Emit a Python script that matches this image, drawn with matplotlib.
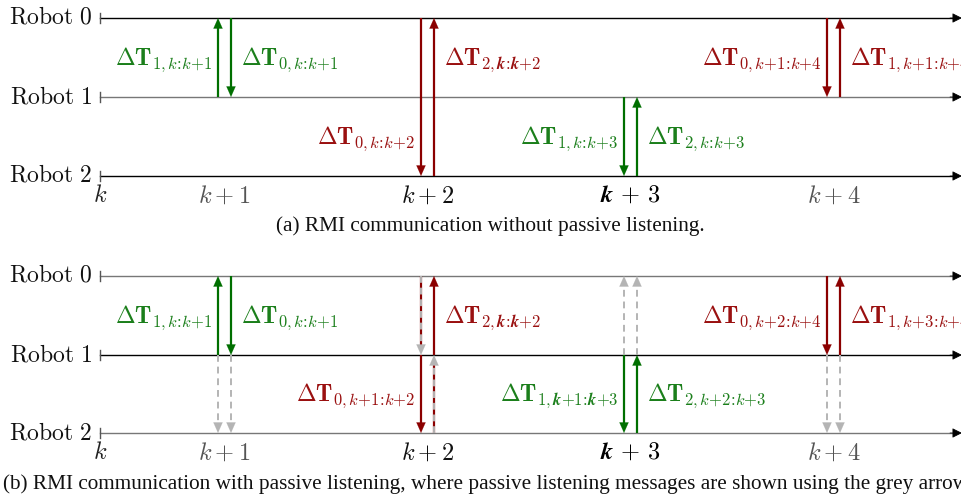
import matplotlib
matplotlib.use("Agg")
import matplotlib.pyplot as plt
from matplotlib.patches import FancyArrowPatch

plt.rcParams['mathtext.fontset'] = 'cm'
plt.rcParams['font.family'] = ['Liberation Serif', 'DejaVu Serif']

# ---------------- data ----------------
robots = ['Robot 0', 'Robot 1', 'Robot 2']
step_labels = [r'$k$', r'$k+1$', r'$k+2$', r'$\boldsymbol{k}\mathbf{\,+\,3}$', r'$k+4$']
step_label_colors = ['#222222', '#555555', '#111111', '#000000', '#555555']

caption_a = '(a) RMI communication without passive listening.'
caption_b = ('(b) RMI communication with passive listening, where passive listening '
             'messages are shown using the grey arrows.')

D = r'\boldsymbol{\Delta}\mathbf{T}'
BK = r'\boldsymbol{k}'
C = r'\!:\!'

# messages
msg_steps_a = [1, 1, 2, 2, 3, 3, 4, 4]
msg_slots_a = [-1, 1, -1, 1, -1, 1, -1, 1]
msg_from_a = [1, 0, 0, 2, 1, 2, 0, 1]
msg_to_a = [0, 1, 2, 0, 2, 1, 1, 0]
msg_labels_a = [r'$' + D + r'_{1,k' + C + r'k{+}1}$',
                r'$' + D + r'_{0,k' + C + r'k{+}1}$',
                r'$' + D + r'_{0,k' + C + r'k{+}2}$',
                r'$' + D + r'_{\mathbf{2},' + BK + C + BK + r'\mathbf{{+}2}}$',
                r'$' + D + r'_{1,k' + C + r'k{+}3}$',
                r'$' + D + r'_{2,k' + C + r'k{+}3}$',
                r'$' + D + r'_{0,k{+}1' + C + r'k{+}4}$',
                r'$' + D + r'_{1,k{+}1' + C + r'k{+}4}$']
msg_lane_a = [0, 0, 1, 0, 1, 1, 0, 0]
msg_color_a = ['g', 'g', 'r', 'r', 'g', 'g', 'r', 'r']

msg_steps_b = [1, 1, 2, 2, 3, 3, 4, 4]
msg_slots_b = [-1, 1, -1, 1, -1, 1, -1, 1]
msg_from_b = [1, 0, 1, 1, 1, 2, 0, 1]
msg_to_b = [0, 1, 2, 0, 2, 1, 1, 0]
msg_labels_b = [r'$' + D + r'_{1,k' + C + r'k{+}1}$',
                r'$' + D + r'_{0,k' + C + r'k{+}1}$',
                r'$' + D + r'_{0,k{+}1' + C + r'k{+}2}$',
                r'$' + D + r'_{\mathbf{2},' + BK + C + BK + r'\mathbf{{+}2}}$',
                r'$' + D + r'_{\mathbf{1},' + BK + r'\mathbf{{+}1}' + C + BK + r'\mathbf{{+}3}}$',
                r'$' + D + r'_{2,k{+}2' + C + r'k{+}3}$',
                r'$' + D + r'_{0,k{+}2' + C + r'k{+}4}$',
                r'$' + D + r'_{1,k{+}3' + C + r'k{+}4}$']
msg_lane_b = [0, 0, 1, 0, 1, 1, 0, 0]
msg_color_b = ['g', 'g', 'r', 'r', 'g', 'g', 'r', 'r']

# passive listening: (step, slot, from, to, underlying colour or None)
pas_steps = [1, 1, 2, 2, 3, 3, 4, 4]
pas_slots = [-1, 1, -1, 1, -1, 1, -1, 1]
pas_from = [1, 1, 0, 2, 1, 1, 1, 1]
pas_to = [2, 2, 1, 1, 0, 0, 2, 2]
pas_base = [None, None, 'r', 'r', None, None, None, None]

# ---------------- layout ----------------
W, H = 961, 496
step_x = [100, 224.5, 427.5, 630.5, 833.5]
slot_dx = 6.5
robot_y_a = [18, 97, 176]
robot_y_b = [276, 355, 433]
line_col_a = ['#000000', '#777777', '#000000']
line_col_b = ['#777777', '#000000', '#777777']
colors = {'g': '#006f00', 'r': '#8b0000'}
text_colors = {'g': '#1b7f1b', 'r': '#9a1010'}
grey = '#b4b4b4'
FS_ROBOT = 17
FS_LAB = 17
FS_TICK = 17.5
FS_CAP = 15.3

fig = plt.figure(figsize=(W / 100, H / 100), dpi=100)
ax = fig.add_axes([0, 0, 1, 1])
ax.set_xlim(0, W)
ax.set_ylim(H, 0)
ax.axis('off')


def head(x, y_tip, direction, color):
    a = FancyArrowPatch((x, y_tip - direction * 10), (x, y_tip),
                        arrowstyle='-|>,head_length=7.5,head_width=3.3',
                        mutation_scale=1, color=color, lw=0.1,
                        shrinkA=0, shrinkB=0, zorder=5)
    ax.add_patch(a)


def solid_arrow(x, y0, y1, color):
    d = 1 if y1 > y0 else -1
    ax.plot([x, x], [y0, y1 - d * 8], color=color, lw=1.6, solid_capstyle='butt', zorder=4)
    head(x, y1, d, color)


def dashed_arrow(x, y0, y1, base):
    d = 1 if y1 > y0 else -1
    if base is not None:
        ax.plot([x, x], [y0, y1 - d * 8], color=colors[base], lw=1.6,
                solid_capstyle='butt', zorder=3)
    ax.plot([x, x], [y0, y1 - d * 8], color=grey, lw=1.4, dashes=(3.5, 2.5), zorder=4)
    head(x, y1, d, grey)


def timelines(ry, lcols, caption, cap_x, cap_ha, cap_y):
    for name, y, c in zip(robots, ry, lcols):
        ax.plot([100, 956], [y, y], color=c, lw=1.0, zorder=1)
        ax.plot([100, 100], [y - 5, y + 5], color='#555555', lw=1.0)
        ax.add_patch(FancyArrowPatch((950, y), (962, y),
                                     arrowstyle='-|>,head_length=6,head_width=3',
                                     mutation_scale=1, color='black', lw=0.5,
                                     shrinkA=0, shrinkB=0))
        name_m = r'$\mathrm{' + name.replace(' ', r'\ ') + '}$'
        ax.text(92, y, name_m, ha='right', va='center', fontsize=FS_ROBOT, color='#111111')
    for sx, lab, lc in zip(step_x, step_labels, step_label_colors):
        ax.text(sx, ry[2] + 20, lab, ha='center', va='center', fontsize=FS_TICK, color=lc)
    ax.text(cap_x, cap_y, caption, ha=cap_ha, va='center', fontsize=FS_CAP, color='#111111')


def messages(ry, steps, slots, frm, to, labels, lanes, cols):
    for s, sl, f, t, lab, ln, c in zip(steps, slots, frm, to, labels, lanes, cols):
        x = step_x[s] + sl * slot_dx
        solid_arrow(x, ry[f], ry[t], colors[c])
        ly = (ry[ln] + ry[ln + 1]) / 2 + 2
        if sl < 0:
            ax.text(x - 6, ly, lab, ha='right', va='center', fontsize=FS_LAB, color=text_colors[c])
        else:
            ax.text(x + 10, ly, lab, ha='left', va='center', fontsize=FS_LAB, color=text_colors[c])


timelines(robot_y_a, line_col_a, caption_a, 490, 'center', 226)
messages(robot_y_a, msg_steps_a, msg_slots_a, msg_from_a, msg_to_a,
         msg_labels_a, msg_lane_a, msg_color_a)

timelines(robot_y_b, line_col_b, caption_b, 3, 'left', 484)
messages(robot_y_b, msg_steps_b, msg_slots_b, msg_from_b, msg_to_b,
         msg_labels_b, msg_lane_b, msg_color_b)
for s, sl, f, t, b in zip(pas_steps, pas_slots, pas_from, pas_to, pas_base):
    dashed_arrow(step_x[s] + sl * slot_dx, robot_y_b[f], robot_y_b[t], b)

fig.savefig('out.png', dpi=100)
